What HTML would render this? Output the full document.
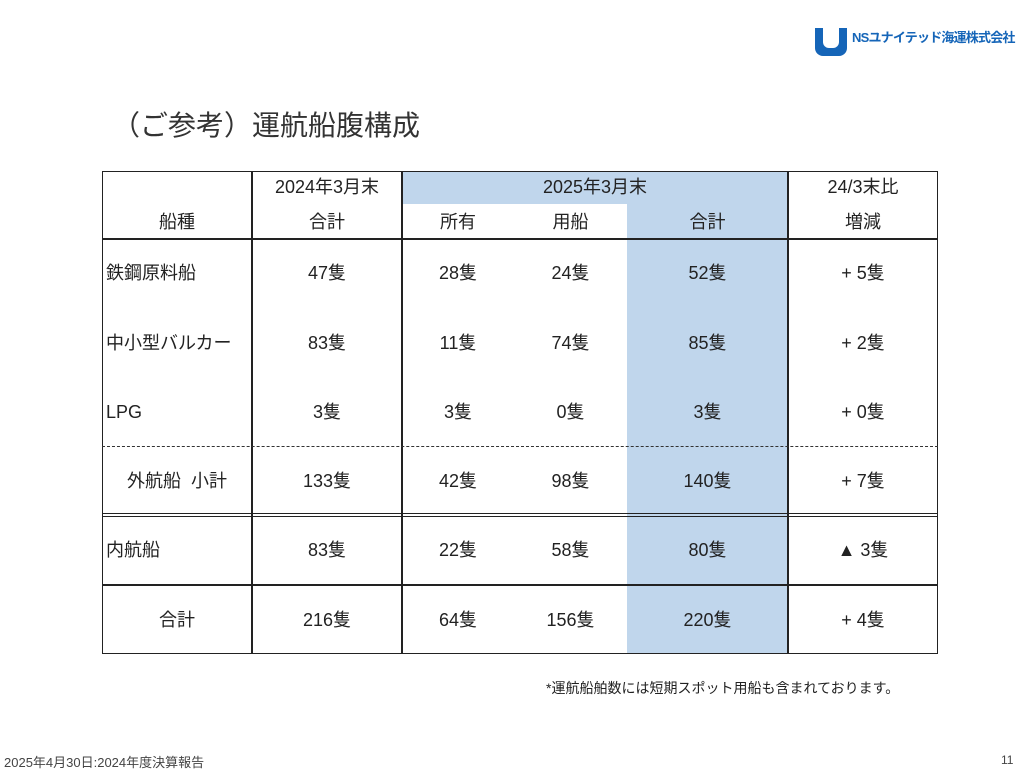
<!DOCTYPE html>
<html><head><meta charset="utf-8"><style>
body{margin:0;width:1024px;height:770px;background:#fff;position:relative;overflow:hidden;font-family:"Liberation Sans","Noto Sans CJK JP",sans-serif;color:#222}
.a{position:absolute;white-space:nowrap}
.t{position:absolute;font-size:18px;text-align:center;line-height:20px;white-space:nowrap}
.v{position:absolute;background:#222;width:1.5px}
.h{position:absolute;background:#222;height:1.5px}
</style></head><body>
<div class="a" style="left:815px;top:28px;width:32px;height:28px;background:#1565b8;border-radius:0 0 8px 8px"></div>
<div class="a" style="left:823px;top:28px;width:16px;height:20px;background:#fff;border-radius:0 0 6px 6px"></div>
<div class="a" style="left:852px;top:27px;font-size:13px;font-weight:bold;color:#1565b8;letter-spacing:-0.8px">NSユナイテッド海運株式会社</div>
<div class="a" style="left:112px;top:104px;font-size:28px;color:#333">（ご参考）運航船腹構成</div>

<div class="a" style="left:402px;top:171px;width:386px;height:33px;background:#c0d6ec"></div>
<div class="a" style="left:627px;top:204px;width:161px;height:450px;background:#c0d6ec"></div>

<div class="a" style="left:102px;top:171px;width:836px;height:483px;border:1.5px solid #222;box-sizing:border-box"></div>
<div class="v" style="left:251px;top:171px;height:483px"></div>
<div class="v" style="left:401px;top:171px;height:483px"></div>
<div class="v" style="left:787px;top:171px;height:483px"></div>
<div class="h" style="left:102px;top:238px;width:836px"></div>
<div class="a" style="left:102px;top:446px;width:836px;border-top:1px dashed #333"></div>
<div class="h" style="left:102px;top:513px;width:836px;height:1px"></div>
<div class="h" style="left:102px;top:516px;width:836px;height:1px"></div>
<div class="h" style="left:102px;top:584px;width:836px"></div>

<div class="t" style="left:252px;width:150px;top:177px">2024年3月末</div>
<div class="t" style="left:402px;width:386px;top:177px">2025年3月末</div>
<div class="t" style="left:788px;width:150px;top:177px">24/3末比</div>
<div class="t" style="left:102px;width:150px;top:212px">船種</div>
<div class="t" style="left:252px;width:150px;top:212px">合計</div>
<div class="t" style="left:402px;width:112px;top:212px">所有</div>
<div class="t" style="left:514px;width:113px;top:212px">用船</div>
<div class="t" style="left:627px;width:161px;top:212px">合計</div>
<div class="t" style="left:788px;width:150px;top:212px">増減</div>

<div class="t" style="left:106px;top:263px;text-align:left">鉄鋼原料船</div>
<div class="t" style="left:106px;top:333px;text-align:left">中小型バルカー</div>
<div class="t" style="left:106px;top:402px;text-align:left">LPG</div>
<div class="t" style="left:102px;width:150px;top:471px">外航船&nbsp;&nbsp;小計</div>
<div class="t" style="left:106px;top:540px;text-align:left">内航船</div>
<div class="t" style="left:102px;width:150px;top:610px">合計</div>

<div class="t" style="left:252px;width:150px;top:263px">47隻</div>
<div class="t" style="left:402px;width:112px;top:263px">28隻</div>
<div class="t" style="left:514px;width:113px;top:263px">24隻</div>
<div class="t" style="left:627px;width:161px;top:263px">52隻</div>
<div class="t" style="left:788px;width:150px;top:263px">+ 5隻</div>

<div class="t" style="left:252px;width:150px;top:333px">83隻</div>
<div class="t" style="left:402px;width:112px;top:333px">11隻</div>
<div class="t" style="left:514px;width:113px;top:333px">74隻</div>
<div class="t" style="left:627px;width:161px;top:333px">85隻</div>
<div class="t" style="left:788px;width:150px;top:333px">+ 2隻</div>

<div class="t" style="left:252px;width:150px;top:402px">3隻</div>
<div class="t" style="left:402px;width:112px;top:402px">3隻</div>
<div class="t" style="left:514px;width:113px;top:402px">0隻</div>
<div class="t" style="left:627px;width:161px;top:402px">3隻</div>
<div class="t" style="left:788px;width:150px;top:402px">+ 0隻</div>

<div class="t" style="left:252px;width:150px;top:471px">133隻</div>
<div class="t" style="left:402px;width:112px;top:471px">42隻</div>
<div class="t" style="left:514px;width:113px;top:471px">98隻</div>
<div class="t" style="left:627px;width:161px;top:471px">140隻</div>
<div class="t" style="left:788px;width:150px;top:471px">+ 7隻</div>

<div class="t" style="left:252px;width:150px;top:540px">83隻</div>
<div class="t" style="left:402px;width:112px;top:540px">22隻</div>
<div class="t" style="left:514px;width:113px;top:540px">58隻</div>
<div class="t" style="left:627px;width:161px;top:540px">80隻</div>
<div class="t" style="left:788px;width:150px;top:540px">▲ 3隻</div>

<div class="t" style="left:252px;width:150px;top:610px">216隻</div>
<div class="t" style="left:402px;width:112px;top:610px">64隻</div>
<div class="t" style="left:514px;width:113px;top:610px">156隻</div>
<div class="t" style="left:627px;width:161px;top:610px">220隻</div>
<div class="t" style="left:788px;width:150px;top:610px">+ 4隻</div>

<div class="a" style="left:546px;top:678px;font-size:14px">*運航船舶数には短期スポット用船も含まれております。</div>
<div class="a" style="left:4px;top:752px;font-size:13px;color:#444">2025年4月30日:2024年度決算報告</div>
<div class="a" style="left:1001px;top:753px;font-size:12px;color:#444">11</div>
</body></html>
